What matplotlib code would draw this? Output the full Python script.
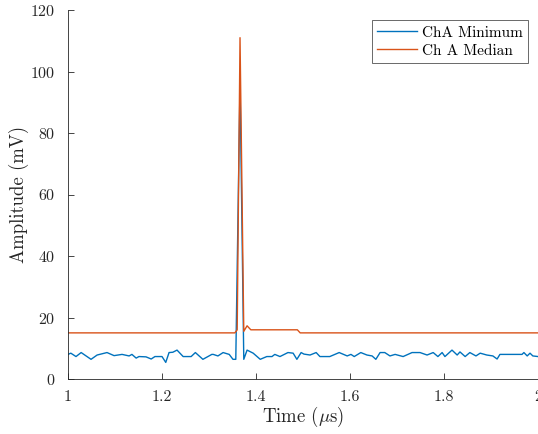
import matplotlib

matplotlib.use("Agg")
import matplotlib.pyplot as plt

plt.rcParams["font.family"] = "serif"
plt.rcParams["font.serif"] = ["cmr10"]
plt.rcParams["mathtext.fontset"] = "cm"
plt.rcParams["axes.formatter.use_mathtext"] = True

# Channel A minimum trace, breakpoints (time in us, amplitude in mV)
min_time = [
    1.000, 1.006, 1.017, 1.028, 1.049, 1.062, 1.083, 1.098, 1.115, 1.130,
    1.136, 1.145, 1.151, 1.166, 1.177, 1.185, 1.200, 1.208, 1.215, 1.223,
    1.232, 1.245, 1.262, 1.271, 1.287, 1.306, 1.309, 1.319, 1.330, 1.343,
    1.351, 1.357, 1.366, 1.374, 1.381, 1.394, 1.409, 1.423, 1.434, 1.440,
    1.451, 1.468, 1.479, 1.487, 1.496, 1.502, 1.515, 1.528, 1.536, 1.557,
    1.577, 1.594, 1.602, 1.609, 1.623, 1.636, 1.647, 1.655, 1.664, 1.674,
    1.685, 1.696, 1.713, 1.732, 1.749, 1.764, 1.777, 1.787, 1.796, 1.802,
    1.817, 1.828, 1.834, 1.845, 1.855, 1.868, 1.877, 1.891, 1.904, 1.913,
    1.919, 1.966, 1.970, 1.977, 1.983, 1.989, 2.000,
]
min_amp = [
    8.0, 8.4, 7.3, 8.6, 6.4, 7.8, 8.6, 7.6, 8.0, 7.5,
    8.0, 6.8, 7.3, 7.2, 6.5, 7.3, 7.3, 5.4, 8.6, 8.7,
    9.4, 7.3, 7.3, 8.6, 6.4, 8.0, 8.0, 7.5, 8.6, 8.0,
    6.4, 6.4, 96.0, 6.4, 9.4, 8.4, 6.4, 7.3, 7.3, 8.0,
    7.3, 8.6, 8.4, 6.4, 8.6, 8.1, 7.8, 8.6, 7.3, 7.3,
    8.6, 7.5, 8.0, 7.3, 8.6, 7.8, 7.5, 6.4, 8.6, 8.6,
    7.5, 8.0, 7.3, 8.6, 8.6, 7.8, 8.6, 7.3, 8.6, 7.3,
    9.4, 7.8, 8.8, 7.3, 8.6, 7.5, 8.4, 7.8, 7.5, 6.5,
    8.0, 8.0, 8.6, 7.5, 8.4, 7.5, 7.3,
]

# Channel A median trace, breakpoints
med_time = [1.000, 1.355, 1.360, 1.366, 1.374, 1.381, 1.389, 1.488, 1.494, 2.000]
med_amp = [15.0, 15.0, 16.0, 111.0, 15.5, 17.3, 16.0, 16.0, 15.0, 15.0]

fig = plt.figure(figsize=(5.38, 4.34), dpi=100)
ax = fig.add_axes([68 / 538, 55 / 434, 470 / 538, 369 / 434])

ax.plot(min_time, min_amp, color="#0072BD", linewidth=1.0, label="ChA Minimum")
ax.plot(med_time, med_amp, color="#D95319", linewidth=1.0, label="Ch A Median")

ax.set_xlim(1, 2)
ax.set_ylim(0, 120)
ax.set_xticks([1, 1.2, 1.4, 1.6, 1.8, 2])
ax.set_xticklabels(["1", "1.2", "1.4", "1.6", "1.8", "2"])
ax.set_yticks(range(0, 121, 20))

for side in ("top", "right"):
    ax.spines[side].set_visible(False)
for side in ("left", "bottom"):
    ax.spines[side].set_color("#262626")
    ax.spines[side].set_linewidth(0.6)
ax.tick_params(direction="in", length=4, width=0.6, colors="#262626",
               labelsize=11.5)
ax.tick_params(axis="x", pad=8)
ax.tick_params(axis="y", pad=9)

ax.set_xlabel(r"Time ($\mu$s)", fontsize=13.5, color="#262626", labelpad=1)
ax.set_ylabel("Amplitude (mV)", fontsize=13.5, color="#262626", labelpad=1)

leg = ax.legend(loc="upper right", bbox_to_anchor=(0.985, 0.98), fontsize=11,
                frameon=True, fancybox=False, handlelength=2.6,
                borderpad=0.35, labelspacing=0.3, handletextpad=0.3,
                borderaxespad=0.2)
leg.get_frame().set_edgecolor("#262626")
leg.get_frame().set_linewidth(0.6)

fig.savefig("out.png", dpi=100)
